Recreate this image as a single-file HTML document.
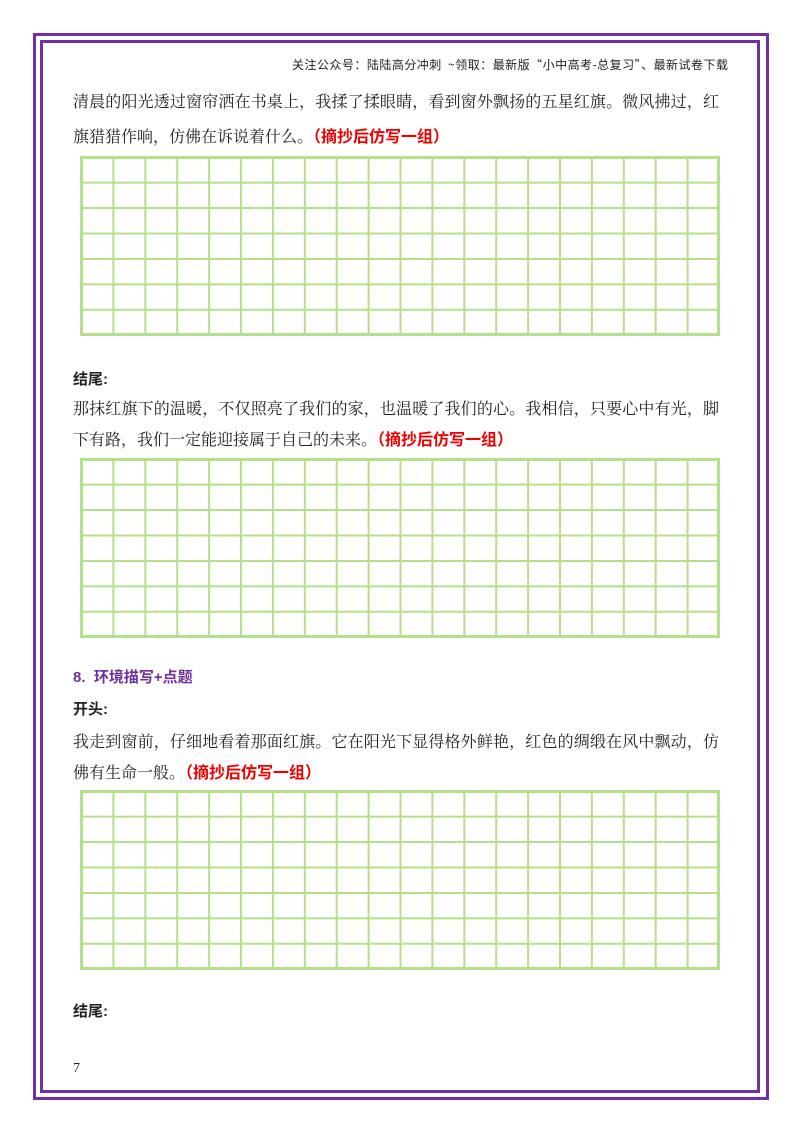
<!DOCTYPE html>
<html><head><meta charset="utf-8"><style>
body{margin:0;background:#fff;}
#p{position:relative;width:800px;height:1132px;overflow:hidden;font-family:"Noto Serif CJK SC","Noto Sans CJK SC",serif;color:#222;}
.b{position:absolute;border:3px solid #7030a0;box-sizing:border-box;}
.t{position:absolute;left:73px;font-size:16px;line-height:20px;white-space:nowrap;}
.j{width:646px;text-align:justify;text-align-last:justify;}
.r{color:#e00;font-weight:bold;font-family:"Noto Sans CJK SC",sans-serif;}
.h{font-weight:bold;font-size:15px;font-family:"Liberation Sans","Noto Sans CJK SC",sans-serif;}
</style></head><body><div id="p">
<div class="b" style="left:33px;top:33px;width:736px;height:1067px"></div>
<div class="b" style="left:40px;top:40px;width:720px;height:1053px"></div>
<div style="position:absolute;left:292px;top:56px;width:436px;font-size:12px;white-space:nowrap;text-align:justify;text-align-last:justify;font-family:'Noto Sans CJK SC',sans-serif;color:#222;">关注公众号：陆陆高分冲刺 &nbsp;~领取：最新版“小中高考-总复习”、最新试卷下载</div>
<div class="t j" style="top:91px">清晨的阳光透过窗帘洒在书桌上，我揉了揉眼睛，看到窗外飘扬的五星红旗。微风拂过，红</div>
<div class="t" style="top:125px">旗猎猎作响，仿佛在诉说着什么。<span class="r">（摘抄后仿写一组）</span></div>
<svg style="position:absolute;left:0;top:0" width="800" height="1132">
<g stroke="#b5e08a" fill="none">
<g id="g1">
<rect x="81.5" y="157.5" width="637" height="177" stroke-width="3"/>
<path stroke-width="2" d="M113.4 157V335M145.3 157V335M177.2 157V335M209.1 157V335M241 157V335M272.9 157V335M304.8 157V335M336.7 157V335M368.6 157V335M400.5 157V335M432.4 157V335M464.3 157V335M496.2 157V335M528.1 157V335M560 157V335M591.9 157V335M623.8 157V335M655.7 157V335M687.6 157V335M81 182.6H719M81 208H719M81 233.5H719M81 259H719M81 284.4H719M81 309.8H719"/>
</g>
<use href="#g1" y="302"/>
<use href="#g1" y="634"/>
</g></svg>
<div class="t h" style="top:370px">结尾:</div>
<div class="t j" style="top:398px">那抹红旗下的温暖，不仅照亮了我们的家，也温暖了我们的心。我相信，只要心中有光，脚</div>
<div class="t" style="top:428px">下有路，我们一定能迎接属于自己的未来。<span class="r">（摘抄后仿写一组）</span></div>
<div class="t h" style="top:668px;color:#7030a0">8. &nbsp;环境描写+点题</div>
<div class="t h" style="top:700px">开头:</div>
<div class="t j" style="top:731px">我走到窗前，仔细地看着那面红旗。它在阳光下显得格外鲜艳，红色的绸缎在风中飘动，仿</div>
<div class="t" style="top:761px">佛有生命一般。<span class="r">（摘抄后仿写一组）</span></div>
<div class="t h" style="top:1002px">结尾:</div>
<div class="t" style="top:1059px;font-size:14px;font-family:'Liberation Serif',serif">7</div>
</div></body></html>
